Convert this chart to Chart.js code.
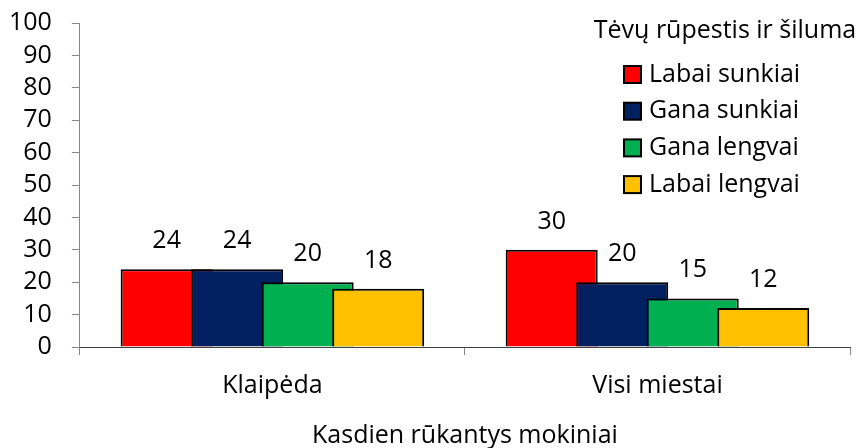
<!DOCTYPE html>
<html>
<head>
<meta charset="utf-8">
<script src="https://cdn.jsdelivr.net/npm/chart.js@4.4.0/dist/chart.umd.min.js"></script>
<style>
  html, body { margin: 0; padding: 0; background: #fff; }
  #wrap { width: 859px; height: 448px; }
</style>
</head>
<body>
<div id="wrap"><canvas id="myChart"></canvas></div>
<script>
var categories = ["Klaipėda", "Visi miestai"];
var seriesNames = ["Labai sunkiai", "Gana sunkiai", "Gana lengvai", "Labai lengvai"];
var labaiSunkiai = [24, 30];
var ganaSunkiai = [24, 20];
var ganaLengvai = [20, 15];
var labaiLengvai = [18, 12];
var seriesColors = ["#FF0000", "#002060", "#00B050", "#FFC000"];
var legendTitle = "Tėvų rūpestis ir šiluma";
var yMin = 0, yMax = 100, yStep = 10;

var values = [labaiSunkiai, ganaSunkiai, ganaLengvai, labaiLengvai];
var FONT = "25px 'Open Sans', sans-serif";

Chart.defaults.font.family = "'Open Sans', sans-serif";
Chart.defaults.font.size = 25;
Chart.defaults.color = "#000";

// bars overlap (barPercentage > 1), so draw them left to right: later series on top
var drawOrder = {
    id: "drawOrder",
    beforeDatasetsDraw: function(chart) {
        chart.getSortedVisibleDatasetMetas().forEach(function(meta) {
            meta.controller.draw();
        });
        return false;
    },
    afterDraw: function(chart) {
        var ctx = chart.ctx;
        ctx.save();
        ctx.font = FONT;
        ctx.fillStyle = "#000";
        ctx.textAlign = "center";
        ctx.textBaseline = "alphabetic";
        chart.data.datasets.forEach(function(ds, i) {
            chart.getDatasetMeta(i).data.forEach(function(bar, j) {
                ctx.fillText(ds.data[j], bar.x, bar.y - 21);
            });
        });
        ctx.restore();
    }
};

// legend with title, inside the plot at top right
var insideLegend = {
    id: "insideLegend",
    afterDraw: function(chart) {
        var ctx = chart.ctx, a = chart.chartArea;
        var boxLeft = a.right - 226;
        ctx.save();
        ctx.font = FONT;
        ctx.fillStyle = "#000";
        ctx.textBaseline = "middle";
        ctx.textAlign = "center";
        ctx.fillText(legendTitle, a.right - 125, 31);
        ctx.textAlign = "left";
        chart.data.datasets.forEach(function(ds, i) {
            var cy = 74.5 + i * 36.7;
            ctx.fillStyle = ds.backgroundColor;
            ctx.fillRect(boxLeft, cy - 8.5, 17, 17);
            ctx.strokeStyle = "#000";
            ctx.lineWidth = 2;
            ctx.strokeRect(boxLeft, cy - 8.5, 17, 17);
            ctx.fillStyle = "#000";
            ctx.fillText(ds.label, boxLeft + 25, cy);
        });
        ctx.restore();
    }
};

var ctx = document.getElementById("myChart");

const myChart = new Chart(ctx, {
    type: "bar",
    data: {
        labels: categories,
        datasets: seriesNames.map(function(name, i) {
            return {
                label: name,
                data: values[i],
                backgroundColor: seriesColors[i],
                borderColor: "#000",
                borderWidth: 2,
                categoryPercentage: 0.7325,
                barPercentage: 1.305
            };
        })
    },
    options: {
        responsive: true,
        maintainAspectRatio: false,
        animation: false,
        layout: {
            padding: { top: 0, right: 9, bottom: 0, left: -11 }
        },
        scales: {
            x: {
                grid: { drawOnChartArea: false, tickLength: 8, color: "#868686" },
                border: { color: "#404040" },
                ticks: { padding: 16 },
                title: {
                    display: true,
                    text: "Kasdien rūkantys mokiniai",
                    font: { size: 25, lineHeight: 1 },
                    padding: { top: 6, bottom: 0 }
                }
            },
            y: {
                min: yMin,
                max: yMax,
                grid: { drawOnChartArea: false, tickLength: 8, color: "#868686" },
                border: { color: "#868686" },
                // small lineHeight keeps the top label from pushing the plot down
                ticks: { stepSize: yStep, padding: 20, autoSkip: false, font: { lineHeight: 0.24 } }
            }
        },
        plugins: {
            legend: { display: false },
            tooltip: { enabled: false }
        }
    },
    plugins: [drawOrder, insideLegend]
});
</script>
</body>
</html>
